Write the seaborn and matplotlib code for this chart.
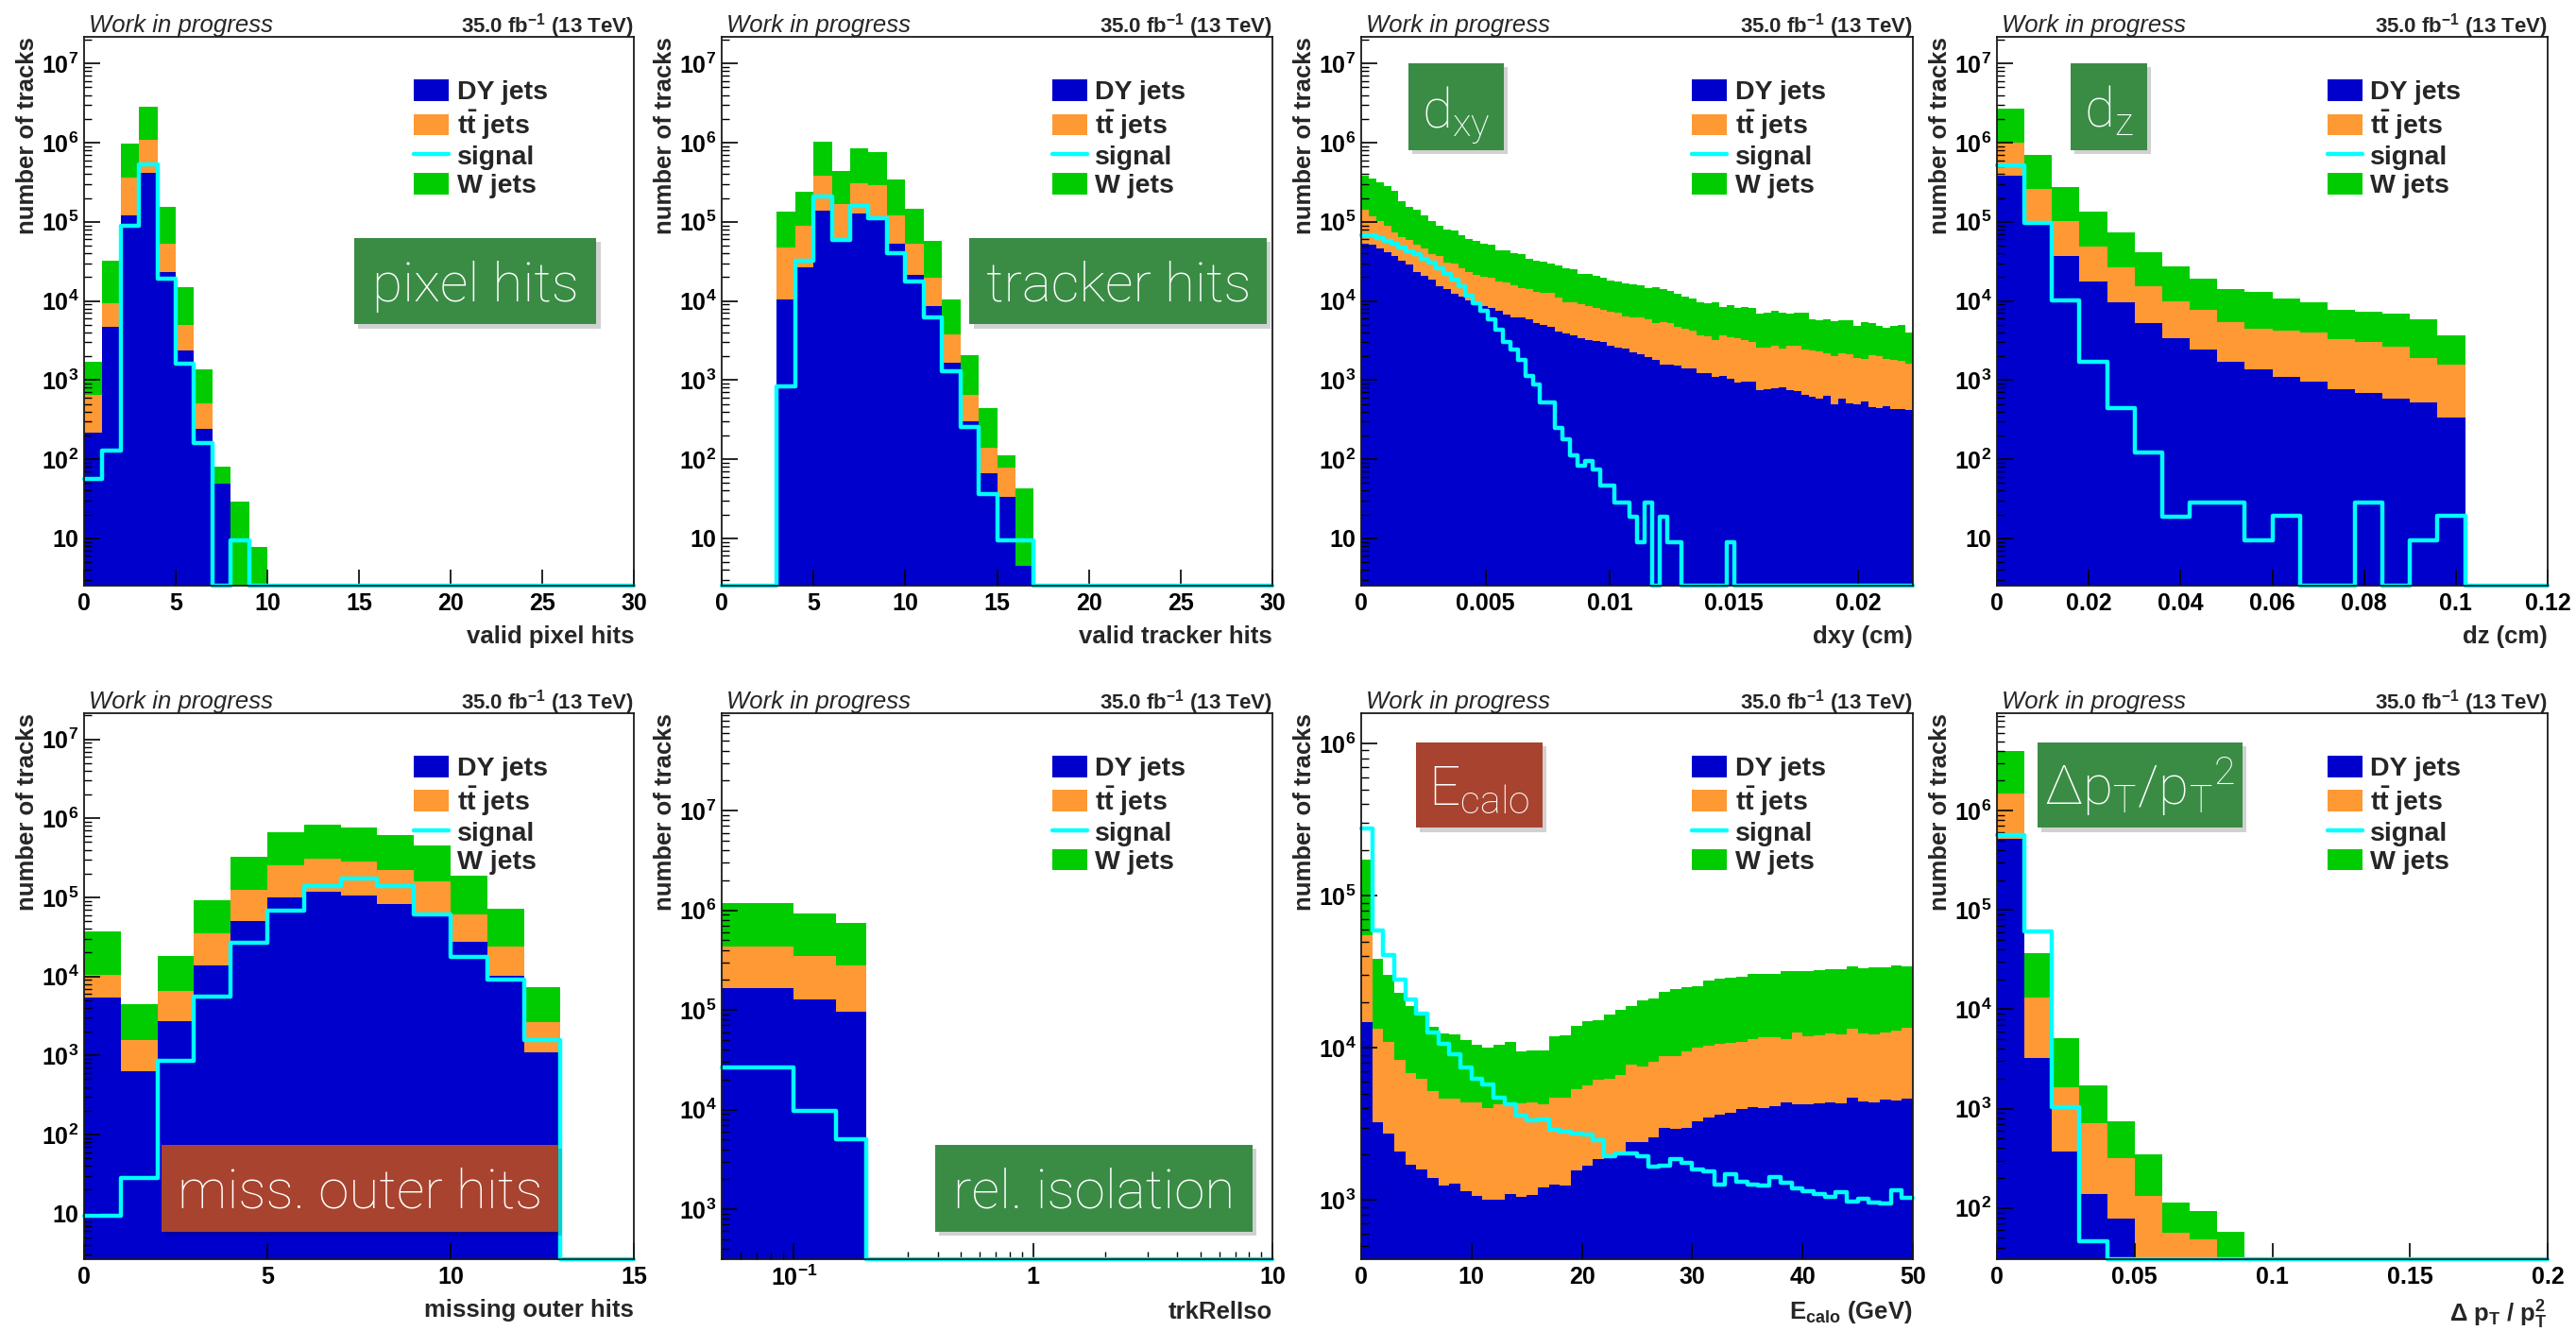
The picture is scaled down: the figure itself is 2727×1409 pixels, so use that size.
import numpy as np
import pandas as pd
import matplotlib
matplotlib.use("Agg")
import matplotlib.pyplot as plt
import matplotlib.transforms as mtransforms
import seaborn as sns
from matplotlib.patches import Patch, Rectangle
from matplotlib.lines import Line2D
from matplotlib.ticker import LogLocator, FuncFormatter, FixedLocator, NullLocator, NullFormatter

# ----------------------------------------------------------------------------
# DATA.  For every panel: cumulative stack levels
#   *_dy   = DY jets, *_dytt = DY + ttbar, *_all = DY + ttbar + W jets
#   *_sig  = signal (drawn as an unstacked line)
# ----------------------------------------------------------------------------
SAMPLES = ["DY jets", "tt jets", "signal", "W jets"]

# 1) valid pixel hits : 30 bins on [0, 30]
pix_range = (0, 30, 30)
pix_dy = [217, 4720, 1.22e5, 4.2e5, 2.34e4, 2340, 240, 49.5, 0, 0,
          0, 0, 0, 0, 0, 0, 0, 0, 0, 0, 0, 0, 0, 0, 0, 0, 0, 0, 0, 0]
pix_dytt = [641, 9290, 3.6e5, 1.09e6, 5.34e4, 4900, 502, 49.5, 0, 0,
            0, 0, 0, 0, 0, 0, 0, 0, 0, 0, 0, 0, 0, 0, 0, 0, 0, 0, 0, 0]
pix_all = [1718, 3.18e4, 9.6e5, 2.85e6, 1.56e5, 1.48e4, 1360, 81, 29, 7.7,
           0, 0, 0, 0, 0, 0, 0, 0, 0, 0, 0, 0, 0, 0, 0, 0, 0, 0, 0, 0]
pix_sig = [56, 128, 8.95e4, 5.27e5, 1.9e4, 1620, 160, 0, 9.4, 0,
           0, 0, 0, 0, 0, 0, 0, 0, 0, 0, 0, 0, 0, 0, 0, 0, 0, 0, 0, 0]

# 2) valid tracker hits : 30 bins on [0, 30]
trk_range = (0, 30, 30)
trk_dy = [0, 0, 0, 1.03e4, 2.64e4, 1.39e5, 6.0e4, 1.26e5, 1.12e5, 5.21e4,
          2.15e4, 8520, 1660, 303, 65.8, 33.4, 4.5, 0, 0, 0,
          0, 0, 0, 0, 0, 0, 0, 0, 0, 0]
trk_dytt = [0, 0, 0, 4.78e4, 8.95e4, 3.87e5, 1.66e5, 3.07e5, 2.92e5, 1.2e5,
            5.21e4, 1.94e4, 3780, 641, 141, 78.2, 4.5, 0, 0, 0,
            0, 0, 0, 0, 0, 0, 0, 0, 0, 0]
trk_all = [0, 0, 0, 1.36e5, 2.37e5, 1.04e6, 4.44e5, 8.41e5, 7.63e5, 3.42e5,
           1.45e5, 5.74e4, 1.04e4, 2070, 438, 113, 42.3, 0, 0, 0,
           0, 0, 0, 0, 0, 0, 0, 0, 0, 0]
trk_sig = [0, 0, 0, 841, 3.18e4, 2.07e5, 5.89e4, 1.58e5, 1.12e5, 3.97e4,
           1.78e4, 6260, 1300, 255, 36.4, 9.4, 9.4, 0, 0, 0,
           0, 0, 0, 0, 0, 0, 0, 0, 0, 0]

# 3) dxy (cm) : 74 bins on [0, 0.0222]
dxy_range = (0, 0.0222, 74)
dxy_dy = [5.33e4, 5.09e4, 4.65e4, 4.16e4, 3.69e4, 3.21e4, 2.85e4, 2.33e4, 2.07e4, 1.85e4,
          1.54e4, 1.41e4, 1.22e4, 1.12e4, 1.02e4, 9290, 8710, 8240, 7520, 6730,
          6250, 6140, 5860, 5210, 5020, 4670, 4070, 3880, 3710, 3380,
          3230, 3080, 3000, 2690, 2570, 2500, 2230, 2130, 1950, 1820,
          1580, 1580, 1520, 1410, 1390, 1230, 1210, 1090, 1140, 1040,
          933, 960, 955, 755, 776, 798, 813, 741, 721, 658,
          617, 589, 628, 491, 589, 514, 491, 538, 460, 436,
          469, 428, 428, 420]
dxy_dytt = [1.40e5, 1.16e5, 1.01e5, 8.83e4, 7.35e4, 6.4e4, 5.83e4, 5.19e4, 4.56e4, 3.94e4,
            3.69e4, 3.07e4, 2.93e4, 2.55e4, 2.33e4, 2.12e4, 1.99e4, 1.94e4, 1.77e4, 1.69e4,
            1.57e4, 1.47e4, 1.41e4, 1.31e4, 1.28e4, 1.25e4, 1.09e4, 9730, 9700, 9040,
            8630, 8240, 7730, 7380, 7050, 6430, 6140, 6140, 5860, 5210,
            5350, 5210, 4750, 4460, 4260, 3710, 3600, 3170, 3710, 3470,
            3380, 3170, 3000, 2570, 2570, 2690, 2500, 2690, 2690, 2400,
            2340, 2280, 2190, 2000, 2190, 2130, 1890, 1860, 2040, 2000,
            1860, 1820, 1770, 1620]
dxy_all = [3.85e5, 3.51e5, 3.14e5, 2.79e5, 2.49e5, 1.84e5, 1.56e5, 1.40e5, 1.19e5, 1.01e5,
           9.0e4, 8.05e4, 7.7e4, 6.7e4, 6.1e4, 5.8e4, 5.3e4, 5.2e4, 4.4e4, 4.35e4,
           4.05e4, 3.86e4, 3.37e4, 3.21e4, 3.16e4, 2.93e4, 2.80e4, 2.55e4, 2.5e4, 2.22e4,
           2.16e4, 2.07e4, 1.94e4, 1.80e4, 1.77e4, 1.66e4, 1.61e4, 1.58e4, 1.47e4, 1.50e4,
           1.41e4, 1.34e4, 1.22e4, 1.12e4, 1.07e4, 9550, 9290, 9730, 8470, 8870,
           8090, 8470, 8240, 6850, 7180, 7520, 7050, 6920, 7050, 7000,
           5860, 5700, 5860, 5600, 5700, 5650, 4890, 5350, 5210, 4890,
           4580, 4890, 5020, 3950]
dxy_sig = [6.7e4, 6.7e4, 6.2e4, 5.8e4, 5.3e4, 4.7e4, 4.2e4, 3.9e4, 3.37e4, 3.07e4,
           2.55e4, 2.22e4, 1.85e4, 1.54e4, 1.17e4, 9290, 7510, 5870, 4330, 3000,
           2400, 1780, 1120, 875, 523, 523, 246, 179, 113, 83,
           94, 74.5, 47, 47, 28.4, 28.4, 18.8, 9.0, 28.4, 0,
           18.8, 9.0, 9.0, 0, 0, 0, 0, 0, 0, 9.0,
           0, 0, 0, 0, 0, 0, 0, 0, 0, 0,
           0, 0, 0, 0, 0, 0, 0, 0, 0, 0,
           0, 0, 0, 0]

# 4) dz (cm) : 20 bins on [0, 0.12]
dz_range = (0, 0.12, 20)
dz_dy = [3.83e5, 9.5e4, 3.69e4, 1.76e4, 9640, 5210, 3380, 2460, 1700, 1380,
         1100, 953, 772, 683, 582, 527, 334, 0, 0, 0]
dz_dytt = [1.0e6, 2.58e5, 1.03e5, 4.9e4, 2.64e4, 1.52e4, 9880, 7720, 5340, 4440,
           4170, 3930, 3260, 2990, 2640, 1920, 1560, 0, 0, 0]
dz_all = [2.68e6, 6.91e5, 2.75e5, 1.34e5, 7.35e4, 4.17e4, 2.75e4, 1.90e4, 1.43e4, 1.31e4,
          1.08e4, 9520, 7720, 7260, 6830, 5890, 3690, 0, 0, 0]
dz_sig = [5.21e5, 9.7e4, 1.01e4, 1700, 444, 122, 18.5, 28.5, 28.5, 9.4,
          19, 0, 0, 28.5, 0, 9.4, 19, 0, 0, 0]

# 5) missing outer hits : 15 bins on [0, 15]
moh_range = (0, 15, 15)
moh_dy = [5430, 631, 2740, 1.36e4, 5.04e4, 1.0e5, 1.17e5, 1.06e5, 8.3e4, 6.15e4,
          2.74e4, 1.01e4, 1080, 0, 0]
moh_dytt = [1.04e4, 1550, 6550, 3.47e4, 1.25e5, 2.54e5, 3.10e5, 2.81e5, 2.25e5, 1.60e5,
            6.15e4, 2.42e4, 2640, 0, 0]
moh_all = [3.70e4, 4510, 1.82e4, 9.17e4, 3.30e5, 6.71e5, 8.29e5, 7.6e5, 6.15e5, 4.51e5,
           1.89e5, 7.14e4, 7410, 0, 0]
moh_sig = [9.4, 28.1, 861, 5570, 2.64e4, 6.71e4, 1.38e5, 1.75e5, 1.38e5, 6.1e4,
           1.77e4, 9170, 1550, 0, 0]

# 6) trkRelIso : bin edges (log x axis)
iso_edges = [0.05, 0.1, 0.15, 0.2, 10]
iso_dy = [1.66e5, 1.27e5, 9.67e4, 0]
iso_dytt = [4.34e5, 3.49e5, 2.81e5, 0]
iso_all = [1.17e6, 9.36e5, 7.46e5, 0]
iso_sig = [2.63e4, 9700, 5010, 0]

# 7) E_calo (GeV) : 50 bins on [0, 50]
ecal_range = (0, 50, 50)
ecal_dy = [1.47e4, 3230, 2750, 2100, 1710, 1590, 1400, 1250, 1290, 1150,
           1070, 1010, 1010, 1100, 1050, 1080, 1210, 1270, 1240, 1560,
           1690, 1850, 1880, 2000, 2420, 2420, 2600, 2980, 2930, 3000,
           3310, 3470, 3640, 3730, 3970, 4100, 4040, 4150, 4360, 4240,
           4240, 4300, 4360, 4300, 4730, 4450, 4400, 4580, 4510, 4610]
ecal_dytt = [5.52e4, 1.33e4, 1.09e4, 8300, 6830, 6290, 5200, 4660, 4610, 4360,
             4360, 4040, 4240, 4240, 4300, 4360, 4240, 4730, 4730, 5380,
             5670, 6150, 6240, 6610, 7800, 7510, 8110, 8790, 8790, 9440,
             1.01e4, 1.04e4, 1.06e4, 1.08e4, 1.10e4, 1.14e4, 1.18e4, 1.18e4, 1.15e4, 1.27e4,
             1.19e4, 1.21e4, 1.25e4, 1.23e4, 1.33e4, 1.25e4, 1.23e4, 1.26e4, 1.29e4, 1.35e4]
ecal_all = [1.73e5, 3.82e4, 3.03e4, 2.29e4, 1.87e4, 1.63e4, 1.38e4, 1.25e4, 1.22e4, 1.12e4,
            1.05e4, 1.01e4, 1.05e4, 1.10e4, 9440, 9670, 9580, 1.20e4, 1.21e4, 1.40e4,
            1.49e4, 1.52e4, 1.66e4, 1.77e4, 1.89e4, 2.05e4, 2.10e4, 2.34e4, 2.42e4, 2.51e4,
            2.55e4, 2.76e4, 2.83e4, 2.90e4, 2.94e4, 3.04e4, 3.07e4, 3.04e4, 3.19e4, 3.19e4,
            3.19e4, 3.24e4, 3.30e4, 3.30e4, 3.43e4, 3.34e4, 3.39e4, 3.39e4, 3.46e4, 3.43e4]
ecal_sig = [2.77e5, 5.88e4, 4.10e4, 2.81e4, 2.07e4, 1.67e4, 1.27e4, 1.07e4, 9140, 7450,
            6240, 5730, 4730, 4240, 3600, 3350, 3370, 2890, 2820, 2750,
            2700, 2480, 1950, 2020, 2020, 1930, 1660, 1690, 1860, 1760,
            1580, 1540, 1270, 1470, 1320, 1270, 1240, 1410, 1300, 1200,
            1140, 1100, 1050, 1130, 980, 1020, 970, 955, 1160, 1030]

# 8) delta pT / pT^2 : 20 bins on [0, 0.2]
dpt_range = (0, 0.2, 20)
dpt_dy = [5.25e5, 3270, 370, 137, 78, 0, 0, 0, 0, 0,
          0, 0, 0, 0, 0, 0, 0, 0, 0, 0]
dpt_dytt = [1.49e6, 1.32e4, 1650, 711, 318, 132, 56.3, 48.5, 0, 0,
            0, 0, 0, 0, 0, 0, 0, 0, 0, 0]
dpt_all = [4.0e6, 3.70e4, 5150, 1730, 740, 345, 113, 93.3, 57.9, 0,
           0, 0, 0, 0, 0, 0, 0, 0, 0, 0]
dpt_sig = [5.63e5, 6.13e4, 1046, 46.2, 0, 0, 0, 0, 0, 0,
           0, 0, 0, 0, 0, 0, 0, 0, 0, 0]

# ----------------------------------------------------------------------------
# STYLE
# ----------------------------------------------------------------------------
sns.set_theme(style="ticks")
plt.rcParams.update({
    "font.family": ["Liberation Sans", "DejaVu Sans"],
    "font.weight": "bold",
    "mathtext.fontset": "custom",
    "mathtext.rm": "Roboto:light",
    "mathtext.bf": "Liberation Sans:bold",
    "mathtext.it": "Liberation Sans:italic",
    "mathtext.sf": "Liberation Sans",
    "axes.linewidth": 1.3,
    "axes.edgecolor": "#1a1a1a",
    "xtick.color": "black",
    "ytick.color": "black",
    "figure.facecolor": "white",
    "axes.facecolor": "white",
})

PALETTE = {"DY jets": "#0000cc", "tt jets": "#fe9934", "W jets": "#00cc00"}
CYAN = "#00ffff"
BOX_GREEN = "#3a8c45"
BOX_RED = "#a8432f"

W_PX, H_PX = 2727, 1409
COL_L = [89, 764, 1441, 2114]
COL_W = [582, 583, 584, 583]
ROWS = [(39, 620), (755, 1333)]


def rect(col, row):
    top, bot = ROWS[row]
    return [COL_L[col] / W_PX, 1 - bot / H_PX, COL_W[col] / W_PX, (bot - top) / H_PX]


def pow10(v, pos=None):
    if v <= 0:
        return ""
    e = int(round(np.log10(v)))
    if e == 0:
        return "1"
    if e == 1:
        return "10"
    return r"$\mathbf{10^{%d}}$" % e


def num(v, pos=None):
    return f"{v:g}"


panels = [
    dict(range=pix_range, dy=pix_dy, dytt=pix_dytt, all=pix_all, sig=pix_sig,
         xlim=(0, 30), ylim=(2.52, 2.17e7), xticks=[0, 5, 10, 15, 20, 25, 30],
         xlabel="valid pixel hits", box=("pixel hits", BOX_GREEN, (0.491, 0.476, 0.441, 0.157))),
    dict(range=trk_range, dy=trk_dy, dytt=trk_dytt, all=trk_all, sig=trk_sig,
         xlim=(0, 30), ylim=(2.52, 2.17e7), xticks=[0, 5, 10, 15, 20, 25, 30],
         xlabel="valid tracker hits", box=("tracker hits", BOX_GREEN, (0.450, 0.476, 0.540, 0.157))),
    dict(range=dxy_range, dy=dxy_dy, dytt=dxy_dytt, all=dxy_all, sig=dxy_sig,
         xlim=(0, 0.0222), ylim=(2.52, 2.17e7), xticks=[0, 0.005, 0.01, 0.015, 0.02],
         xlabel="dxy (cm)", box=(r"$\mathrm{d}_{\mathrm{xy}}$", BOX_GREEN, (0.086, 0.794, 0.172, 0.158))),
    dict(range=dz_range, dy=dz_dy, dytt=dz_dytt, all=dz_all, sig=dz_sig,
         xlim=(0, 0.12), ylim=(2.52, 2.17e7), xticks=[0, 0.02, 0.04, 0.06, 0.08, 0.1, 0.12],
         xlabel="dz (cm)", box=(r"$\mathrm{d}_{\mathrm{z}}$", BOX_GREEN, (0.133, 0.794, 0.139, 0.158))),
    dict(range=moh_range, dy=moh_dy, dytt=moh_dytt, all=moh_all, sig=moh_sig,
         xlim=(0, 15), ylim=(2.64, 2.14e7), xticks=[0, 5, 10, 15],
         xlabel="missing outer hits", box=("miss. outer hits", BOX_RED, (0.141, 0.051, 0.721, 0.158))),
    dict(edges=iso_edges, dy=iso_dy, dytt=iso_dytt, all=iso_all, sig=iso_sig, logx=True,
         xlim=(0.05, 10), ylim=(315, 9.5e7), xticks=[0.1, 1, 10],
         xlabel="trkRelIso", box=("rel. isolation", BOX_GREEN, (0.387, 0.051, 0.577, 0.158))),
    dict(range=ecal_range, dy=ecal_dy, dytt=ecal_dytt, all=ecal_all, sig=ecal_sig,
         xlim=(0, 50), ylim=(409, 1.58e6), xticks=[0, 10, 20, 30, 40, 50],
         xlabel=r"$\mathbf{E_{calo}}$ (GeV)", box=(r"$\mathrm{E}_{\mathrm{calo}}$", BOX_RED, (0.099, 0.790, 0.230, 0.157))),
    dict(range=dpt_range, dy=dpt_dy, dytt=dpt_dytt, all=dpt_all, sig=dpt_sig,
         xlim=(0, 0.2), ylim=(30.5, 9.57e6), xticks=[0, 0.05, 0.1, 0.15, 0.2],
         xlabel=r"Δ $\mathbf{p_{T}}$ / $\mathbf{p_{T}^{2}}$",
         box=(r"$\mathrm{\Delta p}_{\mathrm{T}}\mathrm{/}{\mathrm{p}_{\mathrm{T}}}^{\mathrm{2}}$", BOX_GREEN, (0.073, 0.790, 0.373, 0.157))),
]

fig = plt.figure(figsize=(W_PX / 100, H_PX / 100), dpi=100)

legend_handles = [
    Patch(facecolor=PALETTE["DY jets"], edgecolor="none"),
    Patch(facecolor=PALETTE["tt jets"], edgecolor="none"),
    Line2D([], [], color=CYAN, lw=3.2),
    Patch(facecolor=PALETTE["W jets"], edgecolor="none"),
]
legend_labels = ["DY jets", r"$\mathbf{t\bar{t}}$ jets", "signal", "W jets"]

for i, p in enumerate(panels):
    ax = fig.add_axes(rect(i % 4, i // 4))
    if "edges" in p:
        edges = np.asarray(p["edges"], float)
    else:
        lo, hi, n = p["range"]
        edges = np.linspace(lo, hi, n + 1)
    bin_list = [float(e) for e in edges]
    centers = 0.5 * (edges[:-1] + edges[1:])
    dy = np.asarray(p["dy"], float)
    dytt = np.asarray(p["dytt"], float)
    tot = np.asarray(p["all"], float)
    parts = {"DY jets": dy,
             "tt jets": np.clip(dytt - dy, 0, None),
             "W jets": np.clip(tot - dytt, 0, None)}
    df = pd.concat([pd.DataFrame({"x": centers, "n": v, "sample": k}) for k, v in parts.items()],
                   ignore_index=True)
    sns.histplot(data=df, x="x", weights="n", hue="sample",
                 hue_order=["W jets", "tt jets", "DY jets"], multiple="stack",
                 bins=bin_list, element="step", fill=True, alpha=1, linewidth=0,
                 palette=PALETTE, legend=False, ax=ax, zorder=1)
    sig = np.maximum(np.asarray(p["sig"], float), p["ylim"][0])
    sdf = pd.DataFrame({"x": centers, "n": sig})
    sns.histplot(data=sdf, x="x", weights="n", bins=bin_list, element="step", fill=False,
                 color=CYAN, linewidth=3.2, ax=ax, clip_on=False, zorder=3)

    ax.set_yscale("log")
    if p.get("logx"):
        ax.set_xscale("log")
    ax.set_xlim(p["xlim"])
    ax.set_ylim(p["ylim"])
    ax.set_axisbelow(False)

    ax.yaxis.set_major_locator(LogLocator(base=10, numticks=30))
    ax.yaxis.set_minor_locator(LogLocator(base=10, subs=np.arange(2, 10), numticks=200))
    ax.yaxis.set_major_formatter(FuncFormatter(pow10))
    ax.yaxis.set_minor_formatter(NullFormatter())
    ax.xaxis.set_major_locator(FixedLocator(p["xticks"]))
    if p.get("logx"):
        ax.xaxis.set_major_formatter(FuncFormatter(pow10))
        ax.xaxis.set_minor_locator(LogLocator(base=10, subs=np.arange(2, 10), numticks=200))
    else:
        ax.xaxis.set_major_formatter(FuncFormatter(num))
        ax.xaxis.set_minor_locator(NullLocator())
    ax.xaxis.set_minor_formatter(NullFormatter())

    ax.tick_params(axis="both", which="both", direction="in", top=False, right=False,
                   labelsize=18, color="black")
    ax.tick_params(which="major", length=12, width=1.2)
    ax.tick_params(which="minor", length=6, width=1.0)
    ax.tick_params(axis="x", pad=5)
    ax.tick_params(axis="y", pad=4)
    for s in ax.spines.values():
        s.set_visible(True)
        s.set_linewidth(1.3)
        s.set_zorder(4)

    ax.set_xlabel(p["xlabel"], loc="right", fontsize=18.5, fontweight="bold", labelpad=8)
    ax.set_ylabel("number of tracks", loc="top", fontsize=18.5, fontweight="bold", labelpad=2)

    ax.text(0.008, 1.008, "Work in progress", transform=ax.transAxes, ha="left",
            va="baseline", fontsize=18.5, style="italic", fontweight="normal")
    ax.text(1.0, 1.008, r"35.0 fb$^{\mathbf{-1}}$ (13 TeV)", transform=ax.transAxes,
            ha="right", va="baseline", fontsize=16, fontweight="bold")

    ax.legend(legend_handles, legend_labels, loc="upper left", bbox_to_anchor=(0.600, 0.922),
              frameon=False, prop={"size": 20.5, "weight": "bold"}, handlelength=1.3,
              handleheight=0.84, handletextpad=0.3, labelspacing=0.11, borderpad=0,
              borderaxespad=0)

    label, color, (bx, by, bw, bh) = p["box"]
    shadow_tf = ax.transAxes + mtransforms.ScaledTranslation(3 / 72, -3 / 72, fig.dpi_scale_trans)
    ax.add_patch(Rectangle((bx, by), bw, bh, transform=shadow_tf, facecolor="black",
                           alpha=0.18, edgecolor="none", zorder=5, clip_on=False))
    ax.add_patch(Rectangle((bx, by), bw, bh, transform=ax.transAxes, facecolor=color,
                           edgecolor="none", zorder=6, clip_on=False))
    ax.text(bx + bw / 2, by + 0.27 * bh, label, transform=ax.transAxes, ha="center",
            va="baseline", color="white", fontsize=42, fontfamily="Roboto",
            fontweight="light", zorder=7)

fig.savefig("out.png", dpi=100)
